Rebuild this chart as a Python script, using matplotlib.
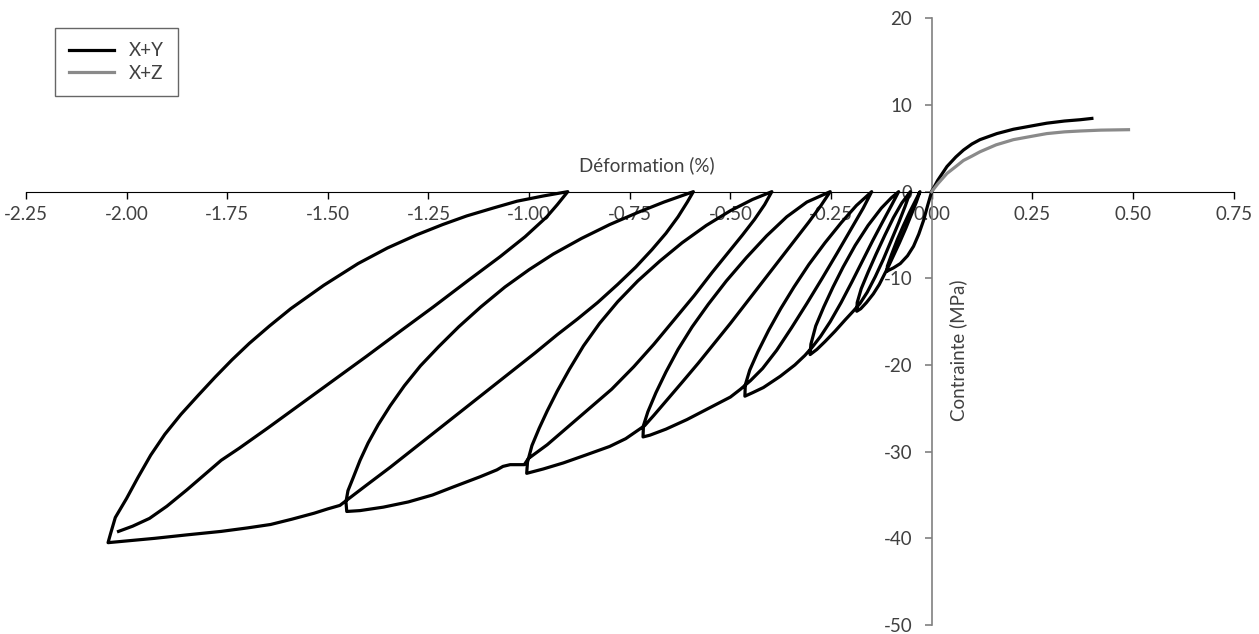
import matplotlib
matplotlib.use("Agg")
import matplotlib.pyplot as plt

plt.rcParams['font.family'] = ['Lato', 'DejaVu Sans']

# --- Tension branches (strain %, stress MPa) ---
xy_strain = [0.0, 0.015, 0.038, 0.060, 0.079, 0.100, 0.120, 0.162, 0.203, 0.250, 0.286, 0.330, 0.369, 0.398]
xy_stress = [0.0, 1.3, 2.9, 4.0, 4.8, 5.5, 6.0, 6.7, 7.2, 7.6, 7.9, 8.15, 8.3, 8.45]

xz_strain = [0.0, 0.015, 0.038, 0.060, 0.079, 0.100, 0.120, 0.160, 0.203, 0.250, 0.286, 0.330, 0.369, 0.420, 0.489]
xz_stress = [0.0, 0.9, 2.1, 2.9, 3.6, 4.1, 4.6, 5.4, 6.0, 6.4, 6.7, 6.9, 7.0, 7.1, 7.15]

# --- Cyclic compression of X+Y (loading / unloading / reloading, in time order) ---
cyc_strain = [
    # first loading
    0.0, -0.010, -0.020, -0.032, -0.045, -0.060, -0.078, -0.095, -0.108, -0.111,
    -0.110, -0.100, -0.085, -0.070, -0.055, -0.040, -0.029,
    -0.038, -0.050, -0.064, -0.080, -0.094, -0.106,
    # cycle 2
    -0.118, -0.130, -0.145, -0.162, -0.176, -0.186,
    -0.185, -0.175, -0.158, -0.138, -0.116, -0.095, -0.074, -0.053,
    -0.066, -0.082, -0.100, -0.120, -0.140, -0.160, -0.178,
    # cycle 3
    -0.195, -0.215, -0.240, -0.265, -0.285, -0.302,
    -0.300, -0.288, -0.268, -0.245, -0.220, -0.190, -0.158, -0.125, -0.100, -0.082,
    -0.100, -0.122, -0.147, -0.172, -0.198, -0.225, -0.252, -0.276, -0.296,
    # cycle 4
    -0.315, -0.340, -0.376, -0.418, -0.445, -0.464,
    -0.463, -0.452, -0.432, -0.405, -0.375, -0.342, -0.305, -0.265, -0.225, -0.187, -0.149,
    -0.170, -0.200, -0.235, -0.272, -0.310, -0.348, -0.385, -0.420, -0.450,
    # cycle 5
    -0.475, -0.500, -0.550, -0.608, -0.660, -0.700, -0.717,
    -0.716, -0.705, -0.685, -0.660, -0.630, -0.595, -0.555, -0.510, -0.460, -0.410, -0.360, -0.310, -0.252,
    -0.275, -0.305, -0.340, -0.380, -0.420, -0.460, -0.500, -0.540, -0.580, -0.620, -0.655, -0.690, -0.713,
    # cycle 6
    -0.735, -0.760, -0.800, -0.860, -0.915, -0.965, -1.006,
    -1.004, -0.993, -0.975, -0.955, -0.930, -0.900, -0.865, -0.825, -0.780, -0.730, -0.675, -0.620, -0.560,
    -0.500, -0.445, -0.397,
    -0.415, -0.440, -0.470, -0.505, -0.545, -0.590, -0.640, -0.690, -0.740, -0.795, -0.850, -0.905, -0.955, -1.002,
    # cycle 7
    -1.012, -1.025, -1.047, -1.065, -1.080, -1.122, -1.190, -1.240, -1.300, -1.362, -1.420, -1.453,
    -1.455, -1.450, -1.437, -1.420, -1.400, -1.375, -1.345, -1.310, -1.270, -1.225, -1.175, -1.120, -1.060,
    -1.000, -0.940, -0.870, -0.800, -0.730, -0.665, -0.592,
    -0.607, -0.630, -0.660, -0.695, -0.735, -0.780, -0.830, -0.880, -0.930, -0.985, -1.045, -1.105, -1.165,
    -1.225, -1.285, -1.345, -1.405, -1.453,
    # cycle 8
    -1.470, -1.500, -1.534, -1.590, -1.642, -1.700, -1.765, -1.850, -1.930, -2.000, -2.046,
    -2.040, -2.028, -2.000, -1.972, -1.940, -1.905, -1.865, -1.822, -1.780, -1.738, -1.695, -1.645, -1.592,
    -1.510, -1.425, -1.352, -1.280, -1.215, -1.155, -1.090, -1.030, -0.965, -0.904,
    -0.930, -0.956, -1.010, -1.072, -1.150, -1.238, -1.320, -1.404, -1.490, -1.570, -1.650, -1.720, -1.765,
    -1.800, -1.850, -1.900, -1.943, -1.985, -2.020,
]
cyc_stress = [
    0.0, -1.6, -3.3, -4.9, -6.3, -7.4, -8.3, -8.8, -9.1, -9.2,
    -8.6, -7.3, -5.5, -3.9, -2.4, -1.0, 0.0,
    -1.2, -2.6, -4.2, -5.9, -7.3, -8.5,
    -9.6, -10.7, -11.8, -12.8, -13.5, -13.8,
    -12.8, -11.2, -9.3, -7.2, -5.0, -3.0, -1.3, 0.0,
    -1.7, -3.6, -5.6, -7.8, -9.8, -11.6, -12.9,
    -13.8, -14.8, -16.1, -17.3, -18.2, -18.8,
    -17.6, -15.5, -13.3, -11.0, -8.7, -6.2, -3.9, -1.9, -0.7, 0.0,
    -1.6, -3.5, -5.7, -8.0, -10.4, -12.8, -15.0, -16.7, -17.9,
    -18.9, -20.0, -21.3, -22.6, -23.2, -23.6,
    -22.3, -20.6, -18.5, -16.0, -13.5, -11.0, -8.4, -5.9, -3.6, -1.6, 0.0,
    -1.9, -4.3, -7.1, -10.0, -12.9, -15.7, -18.3, -20.4, -21.8,
    -22.8, -23.7, -24.9, -26.3, -27.4, -28.1, -28.3,
    -27.0, -25.4, -23.2, -20.8, -18.2, -15.6, -13.0, -10.3, -7.6, -5.1, -2.9, -1.2, 0.0,
    -1.6, -3.5, -5.6, -8.0, -10.4, -12.8, -15.2, -17.5, -19.8, -22.0, -23.9, -25.8, -27.0,
    -27.7, -28.5, -29.4, -30.4, -31.3, -32.0, -32.5,
    -31.2, -29.3, -27.3, -25.3, -23.0, -20.5, -17.8, -15.2, -12.7, -10.3, -8.0, -5.9, -3.9,
    -2.2, -0.9, 0.0,
    -1.5, -3.2, -5.0, -7.0, -9.3, -12.0, -14.8, -17.6, -20.2, -22.8, -25.0, -27.2, -29.2, -30.8,
    -31.5, -31.5, -31.5, -31.7, -32.1, -32.9, -34.1, -35.0, -35.8, -36.4, -36.8, -36.9,
    -35.8, -34.5, -33.0, -31.0, -29.0, -26.9, -24.7, -22.4, -20.1, -17.9, -15.6, -13.3, -11.0,
    -9.0, -7.2, -5.4, -3.8, -2.4, -1.2, 0.0,
    -1.2, -2.9, -4.8, -6.7, -8.7, -10.7, -12.8, -14.7, -16.5, -18.6, -20.8, -23.0, -25.2,
    -27.4, -29.6, -31.8, -33.9, -35.6,
    -36.2, -36.6, -37.1, -37.8, -38.4, -38.8, -39.2, -39.6, -40.0, -40.3, -40.5,
    -39.5, -37.6, -35.4, -33.0, -30.4, -28.0, -25.7, -23.5, -21.4, -19.4, -17.5, -15.5, -13.5,
    -10.8, -8.3, -6.5, -5.0, -3.8, -2.8, -1.9, -1.1, -0.5, 0.0,
    -1.5, -2.9, -5.2, -7.5, -10.2, -13.3, -16.1, -19.0, -21.9, -24.6, -27.3, -29.6, -31.0,
    -32.4, -34.4, -36.3, -37.7, -38.6, -39.2,
]

x_ticks = [-2.25, -2.00, -1.75, -1.50, -1.25, -1.00, -0.75, -0.50, -0.25, 0.00, 0.25, 0.50, 0.75]
y_ticks = [-50, -40, -30, -20, -10, 0, 10, 20]

TEXT = '#404040'

fig = plt.figure(figsize=(12.59, 6.34), dpi=100)
ax = fig.add_axes([0.0206, 0.0142, 0.9592, 0.9569])

ax.plot(cyc_strain, cyc_stress, color='black', lw=2.3, zorder=3, solid_joinstyle='round')
ax.plot(xy_strain, xy_stress, color='black', lw=2.3, zorder=3, label='X+Y')
ax.plot(xz_strain, xz_stress, color='#8a8a8a', lw=2.3, zorder=3, label='X+Z')

ax.set_xlim(-2.25, 0.75)
ax.set_ylim(-50, 20)

# axes crossing at the origin
ax.spines['left'].set_position(('data', 0))
ax.spines['bottom'].set_position(('data', 0))
ax.spines['top'].set_visible(False)
ax.spines['right'].set_visible(False)
ax.spines['bottom'].set_color('black')
ax.spines['left'].set_color('#808080')
ax.spines['left'].set_linewidth(1.2)

ax.set_xticks(x_ticks)
ax.set_xticklabels([f'{v:.2f}' for v in x_ticks])
ax.set_yticks(y_ticks)
ax.set_yticklabels([str(v) for v in y_ticks])
ax.tick_params(axis='x', direction='out', length=5, width=1, color='black',
               labelsize=13.5, labelcolor=TEXT, pad=5)
ax.tick_params(axis='y', direction='out', length=5, width=1.2, color='#808080',
               labelsize=13.5, labelcolor=TEXT, pad=9)

ax.text(-0.707, 3.1, 'Déformation (%)', ha='center', va='center', fontsize=13.5, color=TEXT)
ax.text(0.066, -18.3, 'Contrainte (MPa)', ha='center', va='center', rotation=90,
        fontsize=13.5, color=TEXT)

leg = ax.legend(loc='upper left', bbox_to_anchor=(55 / 1259, 1 - 28 / 634),
                bbox_transform=fig.transFigure, borderaxespad=0, fontsize=13.5,
                frameon=True, fancybox=False, handlelength=2.4, handletextpad=0.8,
                borderpad=0.75, labelspacing=0.3)
leg.get_frame().set_edgecolor('#404040')
leg.get_frame().set_linewidth(1.0)
for t in leg.get_texts():
    t.set_color(TEXT)

fig.savefig('out.png', dpi=100)
